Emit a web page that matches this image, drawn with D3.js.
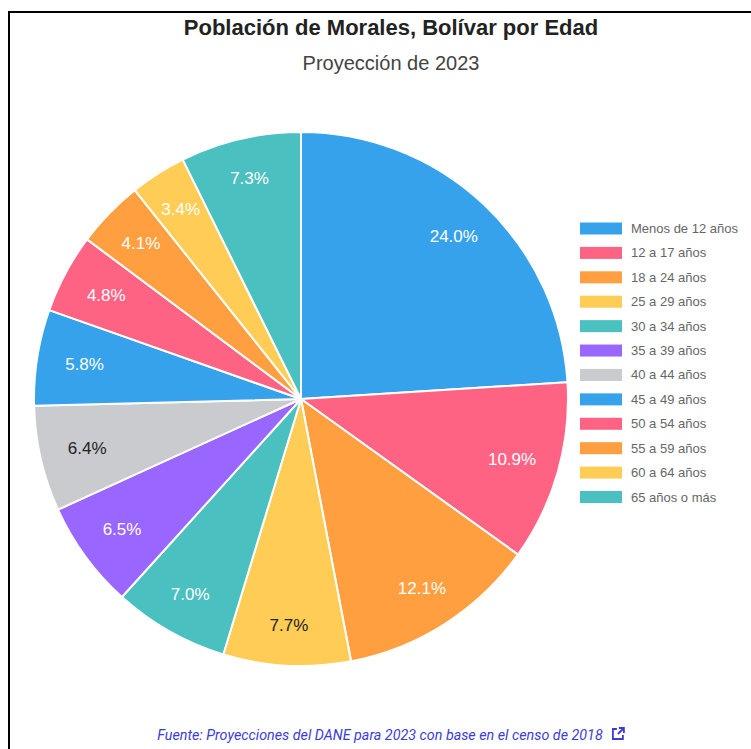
<!DOCTYPE html>
<html>
<head>
<meta charset="utf-8">
<script src="https://cdn.jsdelivr.net/npm/d3@7"></script>
<style>
html,body{margin:0;padding:0;background:#fff;}
svg{display:block;}
</style>
</head>
<body>
<script>
const categories = ["Menos de 12 años","12 a 17 años","18 a 24 años","25 a 29 años","30 a 34 años","35 a 39 años","40 a 44 años","45 a 49 años","50 a 54 años","55 a 59 años","60 a 64 años","65 años o más"];
const values = [24.0, 10.9, 12.1, 7.7, 7.0, 6.5, 6.4, 5.8, 4.8, 4.1, 3.4, 7.3];
const colors = ["#36A2EB","#FF6384","#FF9F40","#FFCD56","#4BC0C0","#9966FF","#C9CBCF","#36A2EB","#FF6384","#FF9F40","#FFCD56","#4BC0C0"];
const labelColors = ["#fff","#fff","#fff","#222","#fff","#fff","#222","#fff","#fff","#fff","#fff","#fff"];
const title = "Población de Morales, Bolívar por Edad";
const subtitle = "Proyección de 2023";
const source = "Fuente: Proyecciones del DANE para 2023 con base en el censo de 2018";

const W = 751, H = 749;
const svg = d3.select("body").append("svg").attr("width", W).attr("height", H);

// frame
svg.append("rect").attr("x", 9).attr("y", 12).attr("width", 800).attr("height", 800)
  .attr("fill", "none").attr("stroke", "#000").attr("stroke-width", 2);

svg.append("text").attr("x", 391).attr("y", 35).attr("text-anchor", "middle")
  .attr("font-family", "Liberation Sans, Arial, sans-serif").attr("font-weight", "bold")
  .attr("font-size", 22).attr("fill", "#222").text(title);
svg.append("text").attr("x", 391).attr("y", 70).attr("text-anchor", "middle")
  .attr("font-family", "Liberation Sans, Arial, sans-serif")
  .attr("font-size", 20).attr("fill", "#444").text(subtitle);

const cx = 301, cy = 399, R = 267;
const pie = d3.pie().value(d => d).sort(null);
const arcs = pie(values);
const arc = d3.arc().innerRadius(0).outerRadius(R);

const g = svg.append("g").attr("transform", `translate(${cx},${cy})`);
g.selectAll("path").data(arcs).join("path")
  .attr("d", arc).attr("fill", (d, i) => colors[i])
  .attr("stroke", "#fff").attr("stroke-width", 2).attr("stroke-linejoin", "round");

function labelPos(d) {
  const a = (d.startAngle + d.endAngle) / 2;
  const r = R * 0.82 + 8 * Math.cos(a) * Math.cos(a);
  return [r * Math.sin(a), -r * Math.cos(a)];
}
g.selectAll("text").data(arcs).join("text")
  .attr("transform", d => `translate(${labelPos(d)})`)
  .attr("text-anchor", "middle").attr("dominant-baseline", "central")
  .attr("font-family", "Liberation Sans, Arial, sans-serif").attr("font-size", 17)
  .attr("fill", (d, i) => labelColors[i])
  .text(d => d.value.toFixed(1) + "%");

// legend
const ly = d3.scalePoint().domain(categories).range([228.5, 497]);
const lg = svg.append("g");
const items = lg.selectAll("g").data(categories).join("g")
  .attr("transform", d => `translate(580,${ly(d)})`);
items.append("rect").attr("x", 0).attr("y", -6).attr("width", 42).attr("height", 12)
  .attr("fill", (d, i) => colors[i]);
items.append("text").attr("x", 51).attr("y", 0).attr("dominant-baseline", "central")
  .attr("font-family", "Liberation Sans, Arial, sans-serif").attr("font-size", 13)
  .attr("fill", "#666").text(d => d);

// source
const src = svg.append("text").attr("x", 380).attr("y", 740).attr("text-anchor", "middle")
  .attr("font-family", "Roboto, sans-serif").attr("font-style", "italic")
  .attr("font-size", 14.3).attr("fill", "#3b3bdb").text(source);
const bb = src.node().getBBox();
const ix = bb.x + bb.width + 9, iy = 727;
const icon = svg.append("g").attr("transform", `translate(${ix},${iy})`)
  .attr("fill", "none").attr("stroke", "#3b3bdb").attr("stroke-width", 1.8);
icon.append("path").attr("d", "M5 2 H1 V12 H11 V8");
icon.append("path").attr("d", "M7 1 H12 V6 M12 1 L6 7");
</script>
</body>
</html>
